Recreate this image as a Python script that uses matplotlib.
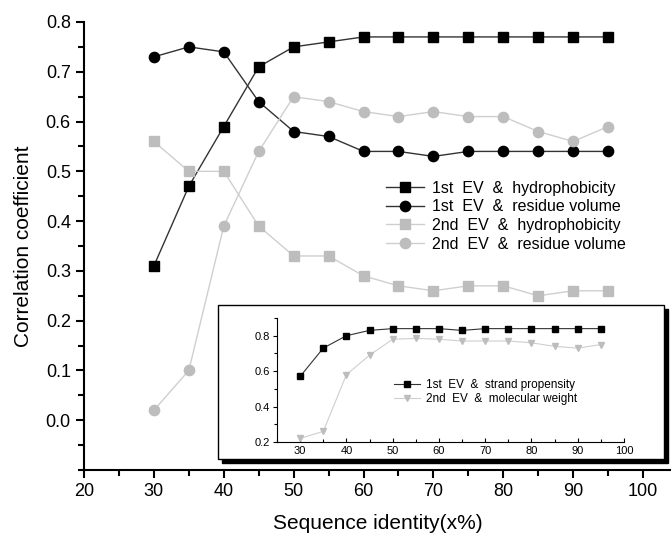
import matplotlib
matplotlib.use("Agg")
import matplotlib.pyplot as plt
from matplotlib.patches import Rectangle
from matplotlib.ticker import MultipleLocator

plt.rcParams['font.family'] = ['Liberation Sans', 'DejaVu Sans']

x = [30, 35, 40, 45, 50, 55, 60, 65, 70, 75, 80, 85, 90, 95]
ev1_hydro = [0.31, 0.47, 0.59, 0.71, 0.75, 0.76, 0.77, 0.77, 0.77, 0.77, 0.77, 0.77, 0.77, 0.77]
ev1_vol = [0.73, 0.75, 0.74, 0.64, 0.58, 0.57, 0.54, 0.54, 0.53, 0.54, 0.54, 0.54, 0.54, 0.54]
ev2_hydro = [0.56, 0.50, 0.50, 0.39, 0.33, 0.33, 0.29, 0.27, 0.26, 0.27, 0.27, 0.25, 0.26, 0.26]
ev2_vol = [0.02, 0.10, 0.39, 0.54, 0.65, 0.64, 0.62, 0.61, 0.62, 0.61, 0.61, 0.58, 0.56, 0.59]

ev1_strand = [0.57, 0.73, 0.80, 0.83, 0.84, 0.84, 0.84, 0.83, 0.84, 0.84, 0.84, 0.84, 0.84, 0.84]
ev2_mw = [0.22, 0.26, 0.58, 0.69, 0.78, 0.785, 0.78, 0.77, 0.77, 0.77, 0.76, 0.74, 0.73, 0.75]

labels_main = ['1st  EV  &  hydrophobicity', '1st  EV  &  residue volume',
               '2nd  EV  &  hydrophobicity', '2nd  EV  &  residue volume']
labels_inset = ['1st  EV  &  strand propensity', '2nd  EV  &  molecular weight']

W, H = 671, 539
fig = plt.figure(figsize=(W / 100, H / 100), dpi=100)

def fx(px):
    return px / W

def fy(py):
    return 1 - py / H

ax = fig.add_axes([fx(84), fy(470), fx(671) - fx(84), fy(22) - fy(470)])
black_line = '#333333'
gray_m = '#bdbdbd'
gray_l = '#cfcfcf'
h1, = ax.plot(x, ev1_hydro, color=black_line, lw=1, marker='s', ms=6.6, mfc='black', mec='black')
h2, = ax.plot(x, ev1_vol, color=black_line, lw=1, marker='o', ms=7.4, mfc='black', mec='black')
h3, = ax.plot(x, ev2_hydro, color=gray_l, lw=1, marker='s', ms=6.6, mfc=gray_m, mec=gray_m)
h4, = ax.plot(x, ev2_vol, color=gray_l, lw=1, marker='o', ms=7.4, mfc=gray_m, mec=gray_m)

ax.set_xlim(20, 104)
ax.set_ylim(-0.1, 0.8)
ax.set_xticks([20, 30, 40, 50, 60, 70, 80, 90, 100])
ax.set_yticks([0.0, 0.1, 0.2, 0.3, 0.4, 0.5, 0.6, 0.7, 0.8])
ax.xaxis.set_minor_locator(MultipleLocator(5))
ax.yaxis.set_minor_locator(MultipleLocator(0.05))
ax.set_yticklabels(['0.0', '0.1', '0.2', '0.3', '0.4', '0.5', '0.6', '0.7', '0.8'])
for s in ['top', 'right']:
    ax.spines[s].set_visible(False)
for s in ['left', 'bottom']:
    ax.spines[s].set_linewidth(1.5)
ax.spines['left'].set_bounds(-0.1, 0.8)
ax.tick_params(which='major', direction='out', length=6, width=1.5, labelsize=13)
ax.tick_params(which='minor', direction='out', length=4, width=1.5)
ax.set_xlabel('Sequence identity(x%)', fontsize=15, labelpad=10)
ax.set_ylabel('Correlation coefficient', fontsize=15, labelpad=9)

leg = ax.legend([h1, h2, h3, h4], labels_main, loc='upper left',
                bbox_to_anchor=(fx(378), fy(173)), bbox_transform=fig.transFigure,
                frameon=False, fontsize=11.5, handlelength=2.4, handletextpad=0.5,
                labelspacing=0.22, borderpad=0)

# inset frame with shadow
L, T, R, B = 218, 305, 664, 459
fig.patches.append(Rectangle((fx(L + 4), fy(B + 4)), fx(R) - fx(L), fy(T) - fy(B),
                             transform=fig.transFigure, facecolor='black', edgecolor='black',
                             zorder=2))
fig.patches.append(Rectangle((fx(L), fy(B)), fx(R) - fx(L), fy(T) - fy(B),
                             transform=fig.transFigure, facecolor='white', edgecolor='black',
                             lw=1.0, zorder=2.5))

ia = fig.add_axes([fx(277), fy(442), fx(624) - fx(277), fy(318) - fy(442)], zorder=3)
ia.patch.set_alpha(0)
i1, = ia.plot(x, ev1_strand, color=black_line, lw=0.8, marker='s', ms=4.5, mfc='black', mec='black')
i2, = ia.plot(x, ev2_mw, color=gray_l, lw=0.8, marker='v', ms=5, mfc=gray_m, mec=gray_m)
ia.set_xlim(25, 100)
ia.set_ylim(0.2, 0.9)
ia.set_xticks([30, 40, 50, 60, 70, 80, 90, 100])
ia.set_yticks([0.2, 0.4, 0.6, 0.8])
ia.set_yticklabels(['0.2', '0.4', '0.6', '0.8'])
ia.xaxis.set_minor_locator(MultipleLocator(5))
ia.yaxis.set_minor_locator(MultipleLocator(0.1))
for s in ['top', 'right']:
    ia.spines[s].set_visible(False)
for s in ['left', 'bottom']:
    ia.spines[s].set_linewidth(0.8)
ia.tick_params(axis='x', which='both', direction='in', labelsize=8, pad=3)
ia.tick_params(axis='y', which='both', direction='out', labelsize=8, pad=2)
ia.tick_params(which='major', length=3, width=0.8)
ia.tick_params(which='minor', length=2, width=0.8)
ia.legend([i1, i2], labels_inset, loc='upper left',
          bbox_to_anchor=(fx(388), fy(373)), bbox_transform=fig.transFigure,
          frameon=False, fontsize=8.5, handlelength=2.2, handletextpad=0.5,
          labelspacing=0.2, borderpad=0)

fig.savefig('out.png', dpi=100)
